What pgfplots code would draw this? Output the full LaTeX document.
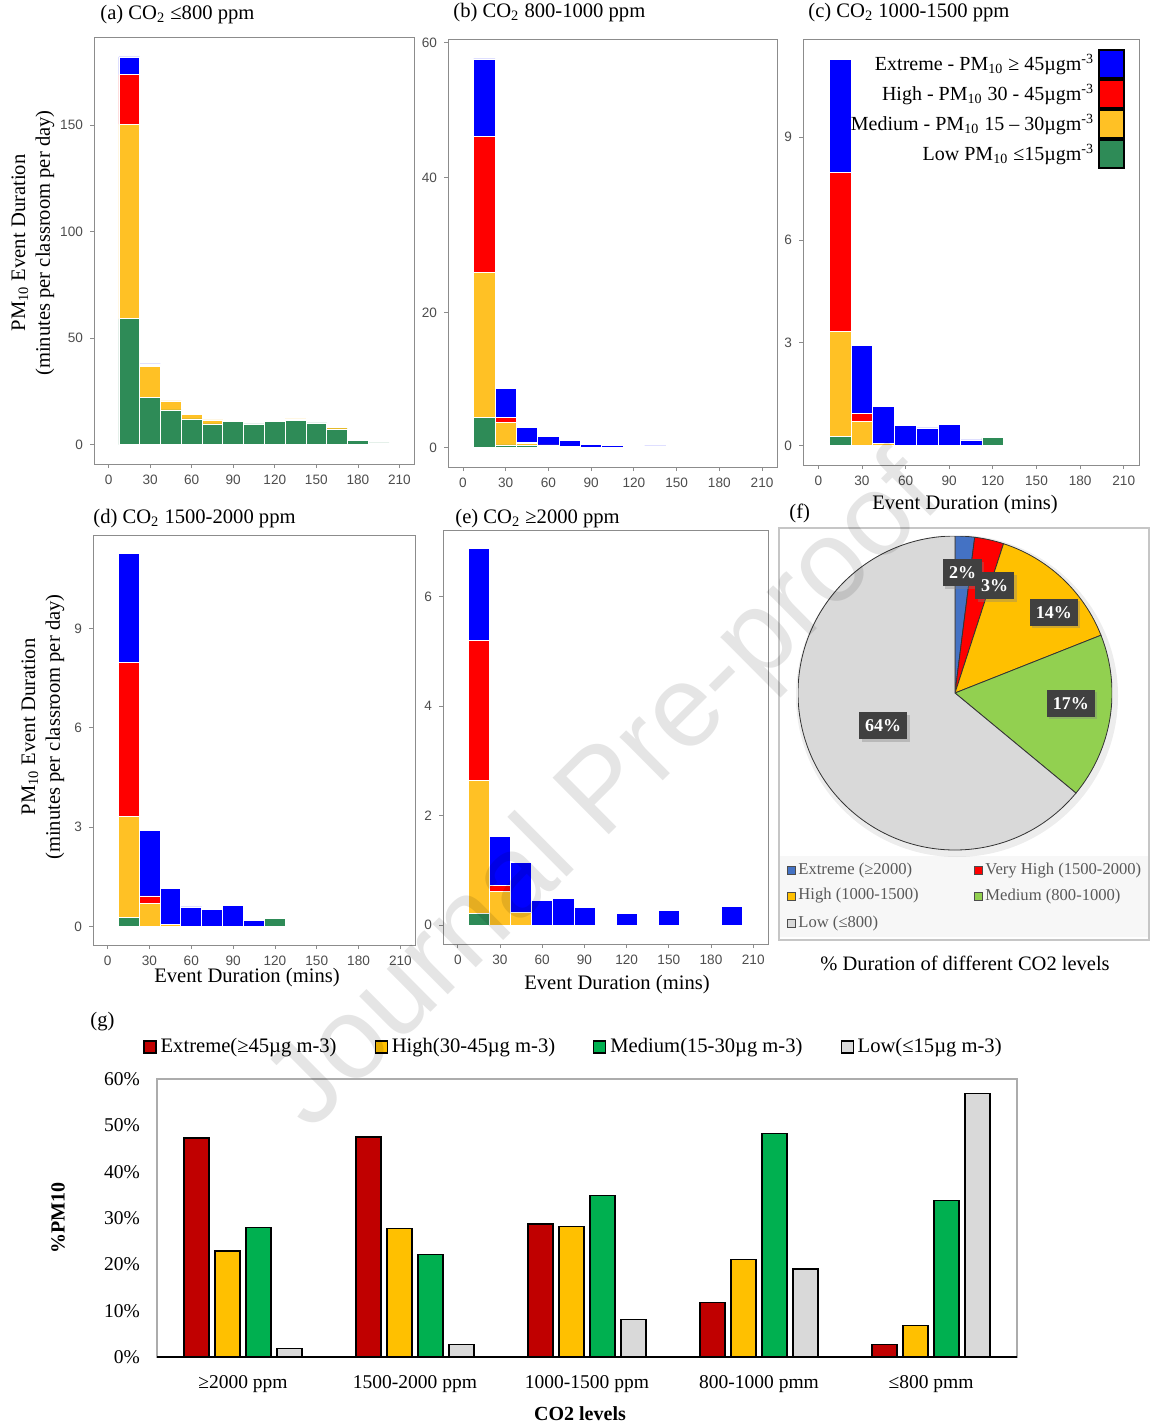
\documentclass[border=0pt]{standalone}
\usepackage{pgfplots}
\pgfplotsset{compat=1.18}
\usepackage{pgfplotstable}
\usepackage{fontspec}
\setmainfont{Liberation Serif}
\setsansfont{Liberation Sans}
\usetikzlibrary{shadows}

\definecolor{cLow}{HTML}{2E8B57}
\definecolor{cMed}{HTML}{FFC125}
\definecolor{cHigh}{HTML}{FF0000}
\definecolor{cExt}{HTML}{0000FF}
\definecolor{tickgray}{HTML}{4D4D4D}
\definecolor{framegray}{HTML}{8C8C8C}
\definecolor{gRed}{HTML}{C00000}
\definecolor{gYel}{HTML}{FFC000}
\definecolor{gGrn}{HTML}{00B050}
\definecolor{gGry}{HTML}{D9D9D9}
\definecolor{pExt}{HTML}{4472C4}
\definecolor{pVH}{HTML}{FF0000}
\definecolor{pHigh}{HTML}{FFC000}
\definecolor{pMed}{HTML}{92D050}
\definecolor{pLow}{HTML}{D9D9D9}
\definecolor{labfill}{HTML}{404040}
\definecolor{leggray}{HTML}{595959}

% (a) CO2 <= 800 ppm
\pgfplotstableread{
x   low  med  high ext
15  59.1 91.5 23.2 8.3
30  22.0 14.8 0.5  0.6
45  16.3 4.2  0.4  0.4
60  12.1 2.0  0    0
75  9.7  1.9  0    0
90  10.7 0.6  0    0
105 9.7  0    0    0
120 10.7 0.5  0    0
135 11.3 0.8  0    0
150 10.2 0    0    0
165 7.4  0.8  0    0
180 1.9  0    0    0
195 0.8  0    0    0
}\tabA
% (b) CO2 800-1000 ppm
\pgfplotstableread{
x   low  med  high ext
15  4.5  21.5 20.1 11.5
30  0.4  3.35 0.75 4.3
45  0.3  0.35 0.05 2.3
60  0.2  0.2  0    1.2
75  0.15 0    0    0.95
90  0    0    0    0.45
105 0.05 0    0    0.25
120 0    0    0    0
135 0    0    0    0.25
}\tabB
% (c) CO2 1000-1500 ppm
\pgfplotstableread{
x   low  med  high ext
15  0.26 3.07 4.65 3.29
30  0    0.71 0.22 2.0
45  0    0.07 0    1.07
60  0    0    0    0.59
75  0    0    0    0.52
90  0    0    0    0.63
105 0    0    0    0.17
120 0.23 0    0    0
}\tabC
% (d) CO2 1500-2000 ppm
\pgfplotstableread{
x   low  med  high ext
15  0.26 3.07 4.65 3.29
30  0    0.69 0.23 1.99
45  0    0.07 0    1.07
60  0    0    0    0.59
75  0    0    0    0.52
90  0    0    0    0.63
105 0    0    0    0.17
120 0.23 0    0    0
}\tabD
% (e) CO2 >= 2000 ppm
\pgfplotstableread{
x   low  med  high ext
15  0.21 2.43 2.57 1.67
30  0    0.62 0.11 0.89
45  0    0.24 0    0.91
60  0    0    0    0.45
75  0    0    0    0.49
90  0    0    0    0.32
105 0    0    0    0
120 0    0    0    0.21
135 0    0    0    0
150 0    0    0    0.27
165 0    0    0    0
180 0    0    0    0
195 0    0    0    0.35
}\tabE
% (g) % PM10 by CO2 level
\pgfplotstableread{
g ext  high med  low
0 47.3 22.9 27.9 1.9
1 47.5 27.7 22.1 2.7
2 28.7 28.1 34.9 8.1
3 11.8 21.1 48.3 19.0
4 2.7  6.75 33.8 56.8
}\tabG

\pgfplotsset{
 hist/.style={
  scale only axis, anchor=south west, ybar stacked, bar width=15,
  xmin=-10.5, xmax=220.5, xtick={0,30,...,210},
  tick pos=left, tick align=outside, major tick length=2pt,
  tick style={framegray, line width=0.4pt},
  axis line style={framegray, line width=0.5pt},
  tick label style={font=\sffamily\fontsize{6.8}{8}\selectfont, text=tickgray},
  /pgf/number format/assume math mode=true,
 },
 hb/.style={fill=#1, draw=white, line width=0.35pt},
}

\newcommand{\stackbars}[1]{%
  \addplot[hb=cLow]  table[x=x,y=low]  {#1};
  \addplot[hb=cMed]  table[x=x,y=med]  {#1};
  \addplot[hb=cHigh] table[x=x,y=high] {#1};
  \addplot[hb=cExt]  table[x=x,y=ext]  {#1};
}
\newcommand{\pieslice}[3]{%
  \filldraw[fill=#3, draw=black!80, line width=0.4pt] (axis cs:0,0) -- ++({90-3.6*#1}:78.5pt)
    arc[start angle={90-3.6*#1}, end angle={90-3.6*#2}, radius=78.5pt] -- cycle;}

\begin{document}
\begin{tikzpicture}
\useasboundingbox (0pt,0pt) rectangle (575pt,-713.5pt);
\tikzset{lab/.style={font=\fontsize{10.3}{12.4}\selectfont}}

% ---------- (a)
\begin{axis}[hist, at={(47pt,-232pt)}, width=160pt, height=213pt,
  ymin=-9.1, ymax=191, ytick={0,50,100,150}]
\stackbars{\tabA}
\end{axis}
% ---------- (b)
\begin{axis}[hist, at={(224pt,-233.5pt)}, width=164.5pt, height=213.5pt,
  ymin=-2.88, ymax=60.4, ytick={0,20,40,60}]
\stackbars{\tabB}
\end{axis}
% ---------- (c)
\begin{axis}[hist, at={(401.5pt,-232.5pt)}, width=168pt, height=212.5pt,
  ymin=-0.563, ymax=11.83, ytick={0,3,6,9},
  legend plot pos=right, reverse legend, legend cell align=right,
  legend style={at={(rel axis cs:1,1)}, anchor=north east, xshift=-7pt, yshift=-4.5pt,
    draw=none, fill=none, inner sep=0pt, row sep=0.2pt,
    font=\fontsize{10}{12}\selectfont},
  legend image code/.code={\draw[#1, draw=black, line width=0.8pt] (0pt,-7pt) rectangle (12.5pt,7pt);}]
\stackbars{\tabC}
\addlegendentry{Low PM\textsubscript{10} ≤15µgm\textsuperscript{-3}}
\addlegendentry{Medium - PM\textsubscript{10} 15 – 30µgm\textsuperscript{-3}}
\addlegendentry{High - PM\textsubscript{10} 30 - 45µgm\textsuperscript{-3}}
\addlegendentry{Extreme - PM\textsubscript{10} ≥ 45µgm\textsuperscript{-3}}
\end{axis}
% ---------- (d)
\begin{axis}[hist, at={(46.5pt,-472.5pt)}, width=161pt, height=205pt,
  ymin=-0.563, ymax=11.83, ytick={0,3,6,9}]
\stackbars{\tabD}
\end{axis}
% ---------- (e)
\begin{axis}[hist, at={(221.5pt,-472pt)}, width=162.5pt, height=207pt,
  ymin=-0.344, ymax=7.22, ytick={0,2,4,6}]
\stackbars{\tabE}
\end{axis}

% titles and labels of the histograms
\node[lab, anchor=west, inner sep=0pt] at (50pt,-7.5pt) {(a) CO\textsubscript{2} ≤800 ppm};
\node[lab, anchor=west, inner sep=0pt] at (226.5pt,-6.5pt) {(b) CO\textsubscript{2} 800-1000 ppm};
\node[lab, anchor=west, inner sep=0pt] at (404pt,-6.5pt) {(c) CO\textsubscript{2} 1000-1500 ppm};
\node[lab, anchor=west, inner sep=0pt] at (46.5pt,-259.5pt) {(d) CO\textsubscript{2} 1500-2000 ppm};
\node[lab, anchor=west, inner sep=0pt] at (227.5pt,-259.5pt) {(e) CO\textsubscript{2} ≥2000 ppm};
\node[lab, anchor=west, inner sep=0pt] at (394.5pt,-256.5pt) {(f)};
\node[lab, anchor=west, inner sep=0pt] at (45pt,-511pt) {(g)};
\node[lab, rotate=90, align=center] at (16.5pt,-121.5pt) {PM\textsubscript{10} Event Duration\\(minutes per classroom per day)};
\node[lab, rotate=90, align=center] at (21.5pt,-363.5pt) {PM\textsubscript{10} Event Duration\\(minutes per classroom per day)};
\node[lab, inner sep=0pt] at (482.5pt,-252.5pt) {Event Duration (mins)};
\node[lab, inner sep=0pt] at (123.5pt,-489pt) {Event Duration (mins)};
\node[lab, inner sep=0pt] at (308.5pt,-492.5pt) {Event Duration (mins)};

% ---------- (f) pie
\fill[gray!6] (390pt,-428pt) rectangle (574.5pt,-468.5pt);
\draw[gray!45, line width=0.6pt] (389.5pt,-264pt) rectangle (574.5pt,-470pt);
\fill[black, opacity=0.07] (478.5pt,-348pt) circle (80.5pt);
\begin{axis}[scale only axis, hide axis, anchor=south west, at={(399pt,-425pt)},
  width=157pt, height=157pt, xmin=-1, xmax=1, ymin=-1, ymax=1]
\pieslice{0}{2}{pExt}
\pieslice{2}{5}{pVH}
\pieslice{5}{19}{pHigh}
\pieslice{19}{36}{pMed}
\pieslice{36}{100}{pLow}
\end{axis}
\tikzset{plab/.style={fill=labfill, text=white, font=\bfseries\fontsize{9}{10}\selectfont,
  minimum height=13.5pt, inner xsep=3pt, drop shadow={shadow xshift=1.2pt, shadow yshift=-1.2pt, opacity=0.35}}}
\node[plab] at (481.25pt,-286.35pt) {2\%};
\node[plab] at (497.35pt,-292.9pt) {3\%};
\node[plab] at (526.9pt,-306.15pt) {14\%};
\node[plab] at (535.4pt,-351.65pt) {17\%};
\node[plab] at (441.6pt,-362.85pt) {64\%};
\tikzset{psq/.style={draw=black!70, line width=0.4pt, minimum size=4pt, inner sep=0pt},
         ptx/.style={anchor=west, text=leggray, font=\fontsize{8.3}{9}\selectfont, inner sep=0.5pt}}
\node[psq, fill=pExt]  at (395.7pt,-435.2pt) {}; \node[ptx] at (398.5pt,-435.2pt) {Extreme (≥2000)};
\node[psq, fill=pVH]   at (489.2pt,-435.2pt) {}; \node[ptx] at (492pt,-435.2pt) {Very High (1500-2000)};
\node[psq, fill=pHigh] at (395.7pt,-448pt) {};   \node[ptx] at (398.5pt,-448pt) {High (1000-1500)};
\node[psq, fill=pMed]  at (489.2pt,-448pt) {};   \node[ptx] at (492pt,-448pt) {Medium (800-1000)};
\node[psq, fill=pLow]  at (395.7pt,-461.7pt) {}; \node[ptx] at (398.5pt,-461.7pt) {Low (≤800)};
\node[font=\fontsize{10.25}{12}\selectfont] at (482.5pt,-481.5pt) {\% Duration of different CO2 levels};

% ---------- (g)
\begin{axis}[scale only axis, anchor=south west, at={(78.5pt,-678.5pt)}, width=430pt, height=139pt,
  ybar=3pt, bar width=12.5pt, xmin=-0.5, xmax=4.5, ymin=0, ymax=60,
  xtick={0,...,4},
  xticklabels={≥2000 ppm, 1500-2000 ppm, 1000-1500 ppm, 800-1000 pmm, ≤800 pmm},
  ytick={0,10,...,60}, yticklabel={\pgfmathprintnumber{\tick}\%},
  major tick length=0pt, axis line style={gray!65, line width=0.6pt},
  tick label style={font=\fontsize{9.75}{11}\selectfont},
  /pgf/number format/assume math mode=true,
  xticklabel style={yshift=-5.5pt}, yticklabel style={xshift=-5pt},
  legend columns=4,
  legend style={at={(rel axis cs:0.4855,1.115)}, anchor=center, draw=none, fill=none,
    inner sep=0pt, font=\fontsize{10.3}{11}\selectfont,
    /tikz/every even column/.append style={column sep=17pt}},
  legend image code/.code={\draw[#1, line width=0.6pt] (0pt,-3pt) rectangle (6pt,3pt);}]
\addplot[fill=gRed, draw=black, line width=0.65pt] table[x=g,y=ext]  {\tabG};
\addplot[fill=gYel, draw=black, line width=0.65pt] table[x=g,y=high] {\tabG};
\addplot[fill=gGrn, draw=black, line width=0.65pt] table[x=g,y=med]  {\tabG};
\addplot[fill=gGry, draw=black, line width=0.65pt] table[x=g,y=low]  {\tabG};
\legend{Extreme(≥45µg m-3), High(30-45µg m-3), Medium(15-30µg m-3), Low(≤15µg m-3)}
\draw[black, line width=1pt] (rel axis cs:0,0) -- (rel axis cs:1,0);
\end{axis}
\node[font=\bfseries\fontsize{10}{12}\selectfont, rotate=90] at (29pt,-609pt) {\%PM10};
\node[font=\bfseries\fontsize{10}{12}\selectfont] at (290pt,-707pt) {CO2 levels};

% watermark
\node[rotate=44.8, font=\sffamily\fontsize{58}{60}\selectfont, text=black, opacity=0.1] at (303.5pt,-397.5pt) {Journal Pre-proof};
\end{tikzpicture}
\end{document}
